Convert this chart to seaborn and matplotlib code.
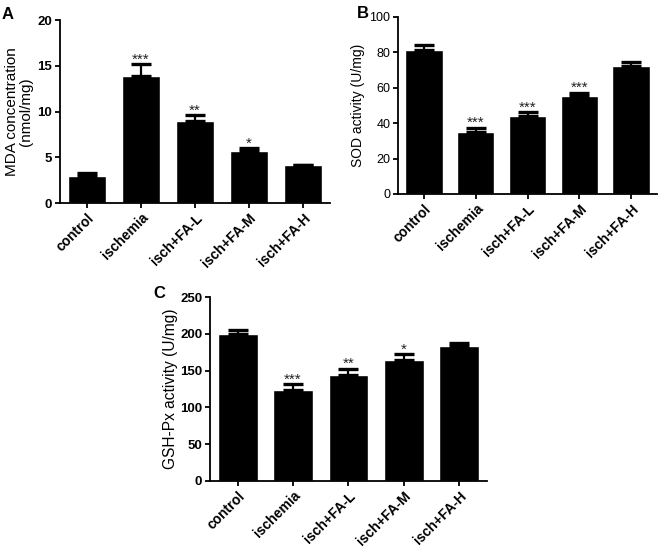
import numpy as np
import pandas as pd
import matplotlib
matplotlib.use("Agg")
import matplotlib.pyplot as plt
import seaborn as sns

groups = ["control", "ischemia", "isch+FA-L", "isch+FA-M", "isch+FA-H"]

mda_mean = [3.0, 13.85, 8.95, 5.65, 4.1]
mda_err = [0.3, 1.3, 0.65, 0.35, 0.1]
mda_stars = ["", "***", "**", "*", ""]

sod_mean = [81.2, 34.9, 44.3, 55.5, 72.2]
sod_err = [2.7, 2.6, 1.9, 1.7, 2.1]
sod_stars = ["", "***", "***", "***", ""]

gsh_mean = [200.0, 124.0, 144.0, 165.0, 184.0]
gsh_err = [5.5, 7.2, 8.2, 7.2, 3.2]
gsh_stars = ["", "***", "**", "*", ""]

sns.set_style("ticks")
plt.rcParams["font.family"] = ["Liberation Sans", "DejaVu Sans"]
plt.rcParams["text.color"] = "black"
plt.rcParams["axes.labelcolor"] = "black"
plt.rcParams["xtick.color"] = "black"
plt.rcParams["ytick.color"] = "black"


def bar_panel(ax, means, errs, stars, ylabel, ymax, ystep, label_x, label_size, ytick_bold):
    df = pd.DataFrame({"group": groups, "value": means})
    sns.barplot(data=df, x="group", y="value", color="black", width=0.72,
                errorbar=None, saturation=1, ax=ax)
    x = np.arange(len(groups))
    ax.errorbar(x, means, yerr=[np.zeros(len(errs)), errs], fmt="none",
                ecolor="black", elinewidth=1.6, capsize=7, capthick=2.4)
    for xi, m, e, s in zip(x, means, errs, stars):
        if s:
            ax.text(xi, m + e - ymax * 0.012, s, ha="center", va="bottom",
                    fontsize=11, color="#222222")
    ax.set_xlim(-0.5, len(groups) - 0.5)
    ax.set_ylim(0, ymax)
    ax.set_yticks(np.arange(0, ymax + 0.1, ystep))
    ax.set_xlabel("")
    ax.set_ylabel(ylabel, fontsize=label_size, linespacing=1.0)
    ax.yaxis.set_label_coords(label_x, 0.5)
    ax.set_xticks(x)
    ax.set_xticklabels(groups, rotation=45, ha="right", rotation_mode="anchor",
                       fontsize=10, fontweight="bold")
    for lab in ax.get_yticklabels():
        lab.set_fontweight("bold" if ytick_bold else "normal")
        lab.set_fontsize(9.5 if ytick_bold else 9)
    ax.tick_params(axis="both", direction="out", length=3.5, width=1.3,
                   color="black", pad=2)
    sns.despine(ax=ax)
    for sp in ["left", "bottom"]:
        ax.spines[sp].set_linewidth(1.3)
        ax.spines[sp].set_color("black")


fig = plt.figure(figsize=(6.69, 5.53), dpi=100)
ax_a = fig.add_axes([0.0897, 0.6329, 0.4036, 0.3309])
ax_b = fig.add_axes([0.595, 0.6492, 0.387, 0.3201])
ax_c = fig.add_axes([0.3139, 0.1302, 0.414, 0.3327])

bar_panel(ax_a, mda_mean, mda_err, mda_stars, "MDA concentration\n(nmol/mg)",
          20, 5, -0.10, 11, True)
bar_panel(ax_b, sod_mean, sod_err, sod_stars, "SOD activity (U/mg)",
          100, 20, -0.127, 10, False)
bar_panel(ax_c, gsh_mean, gsh_err, gsh_stars, "GSH-Px activity (U/mg)",
          250, 50, -0.116, 11.2, True)

for lx, ly, letter in [(0.003, 0.988, "A"), (0.533, 0.989, "B"), (0.229, 0.483, "C")]:
    fig.text(lx, ly, letter, fontsize=12, fontweight="bold", va="top", ha="left")

plt.savefig("out.png", dpi=100)
plt.close()
